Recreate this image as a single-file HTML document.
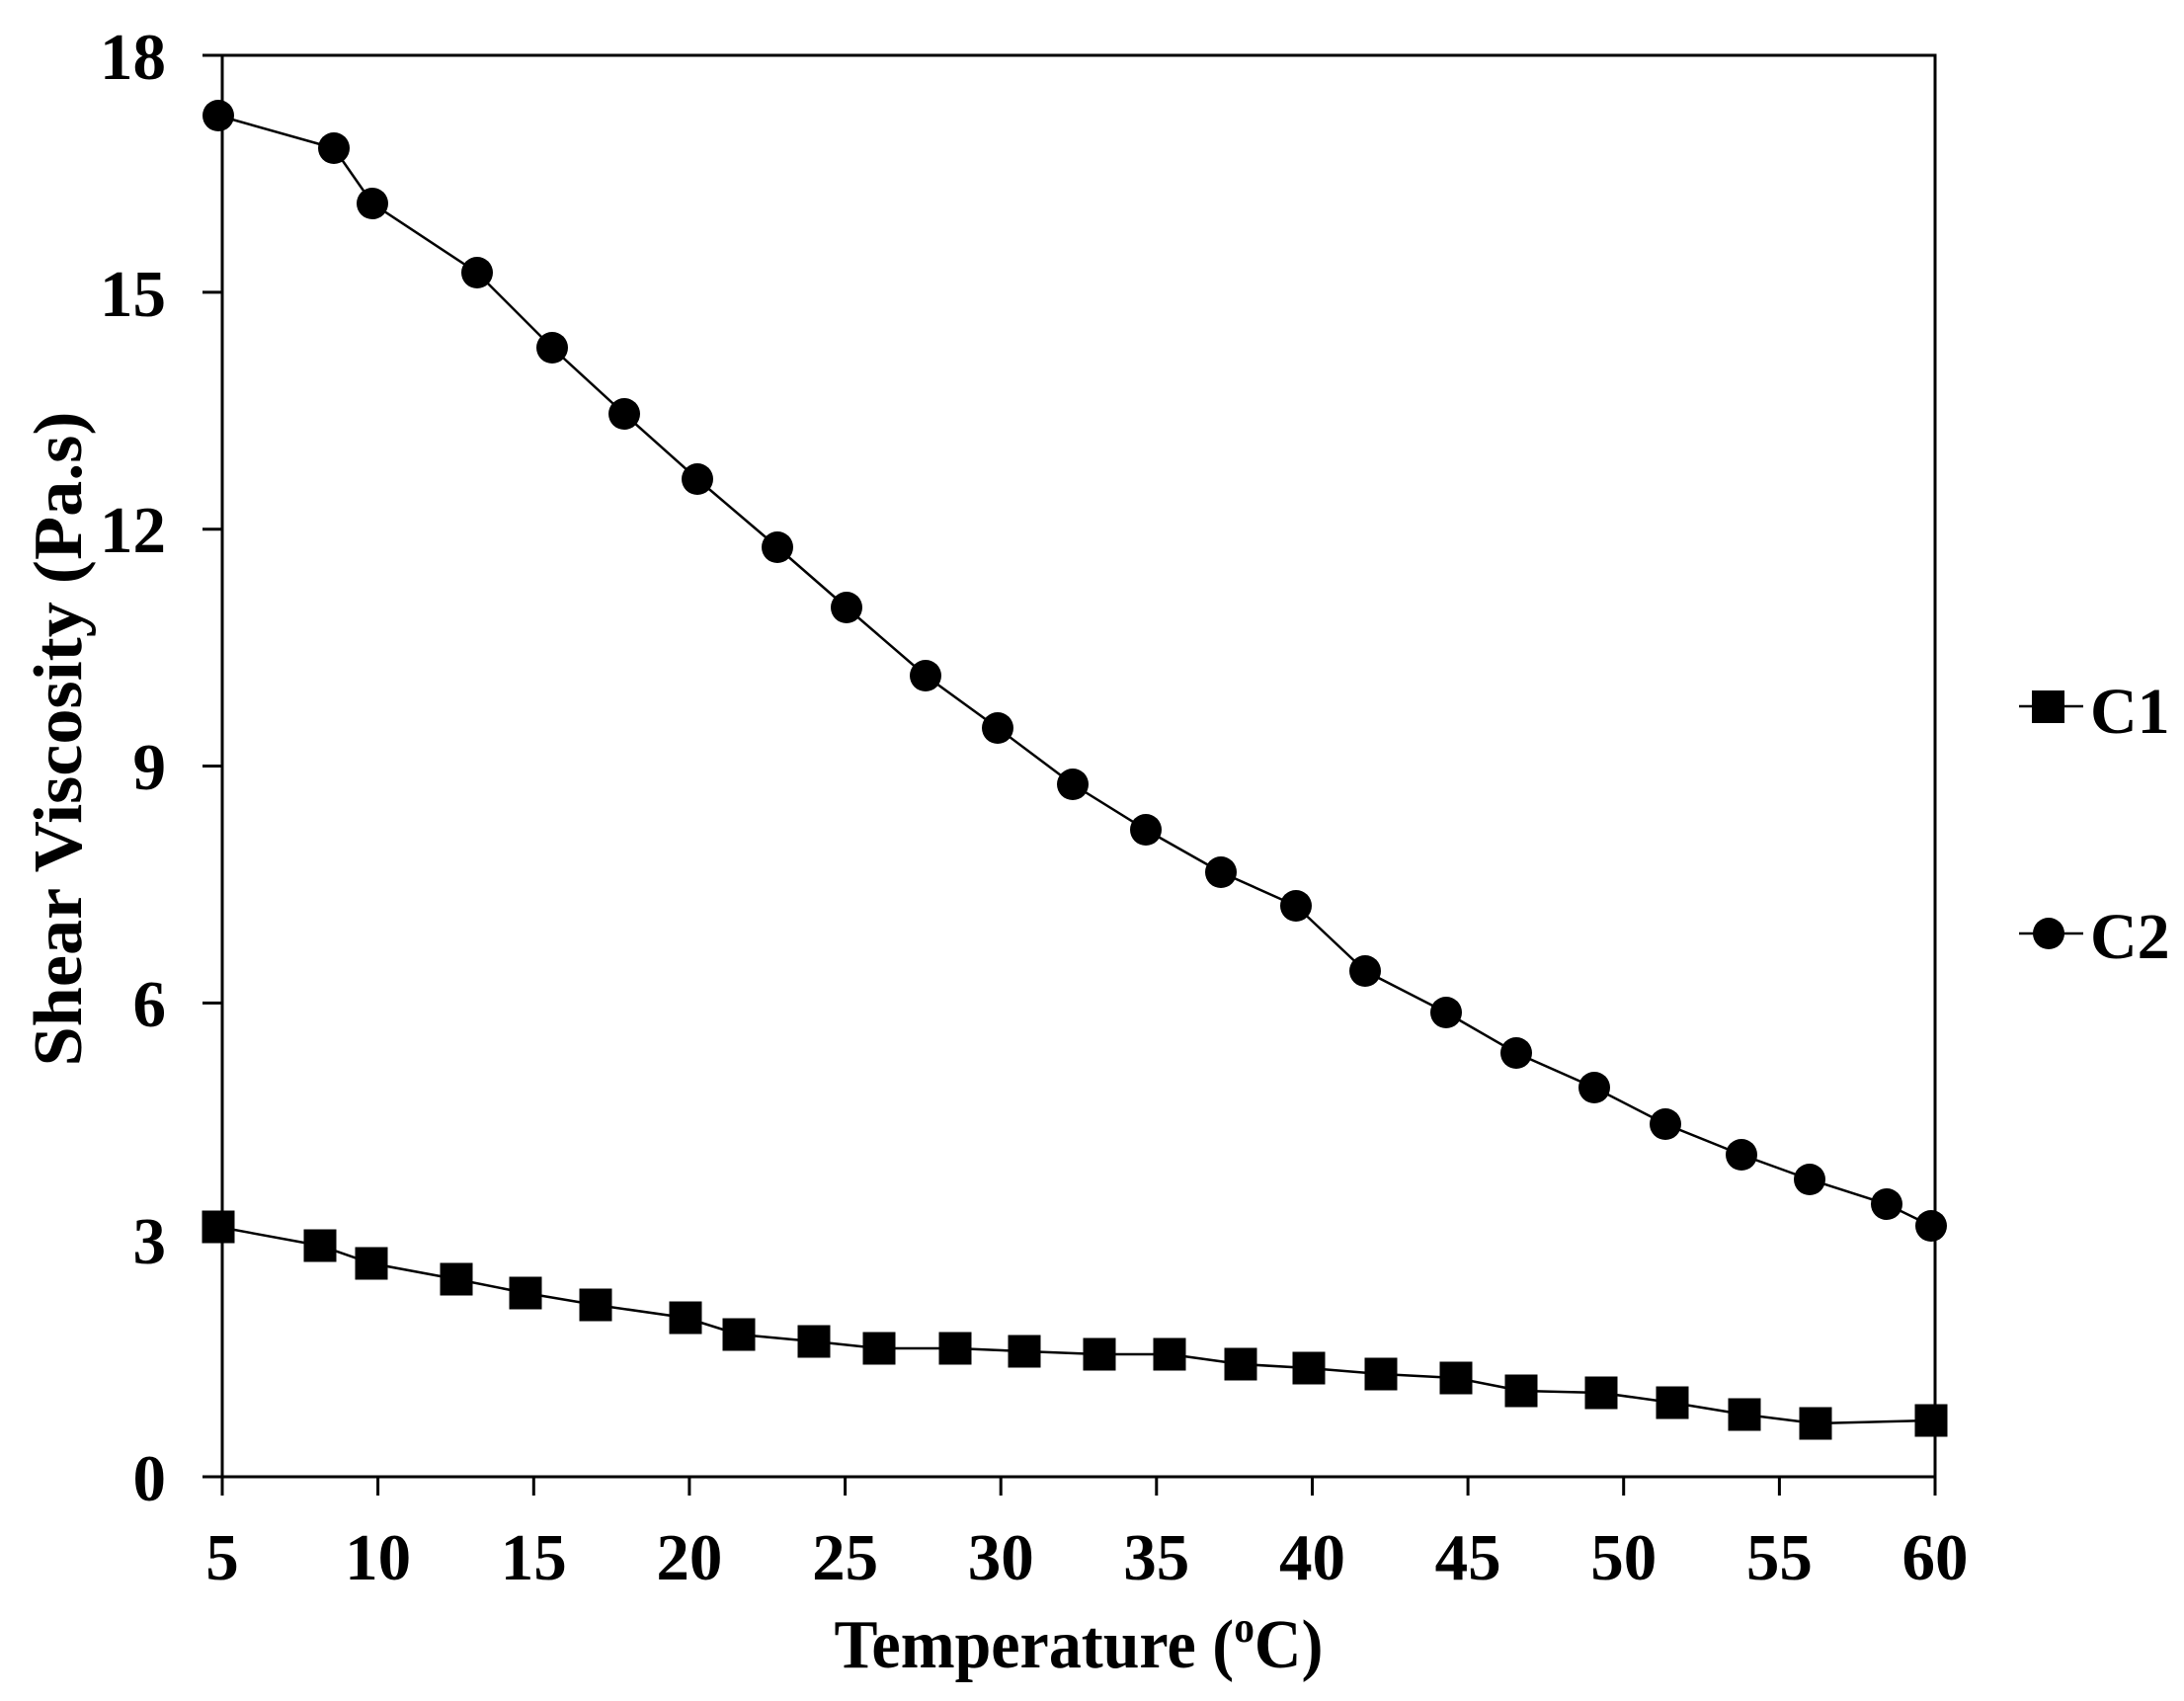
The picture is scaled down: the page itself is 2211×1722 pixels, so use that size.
<!DOCTYPE html>
<html><head><meta charset="utf-8"><style>html,body{margin:0;padding:0;background:#fff}svg{display:block}</style></head>
<body>
<svg width="2211" height="1722" viewBox="0 0 2211 1722" xmlns="http://www.w3.org/2000/svg" font-family="'Liberation Serif', serif" font-weight="bold">
<rect width="2211" height="1722" fill="#fff"/>
<g stroke="#000" stroke-width="3" fill="none">
<rect x="225" y="56" width="1734" height="1439"/>
<path d="M205 1495H225M205 1255.2H225M205 1015.4H225M205 775.5H225M205 535.7H225M205 295.9H225M205 56H225"/>
<path d="M225 1495V1514M382.6 1495V1514M540.3 1495V1514M697.9 1495V1514M855.6 1495V1514M1013.2 1495V1514M1170.8 1495V1514M1328.5 1495V1514M1486.1 1495V1514M1643.7 1495V1514M1801.4 1495V1514M1959 1495V1514"/>
</g>
<g font-size="67" text-anchor="end">
<text x="168" y="1519">0</text>
<text x="168" y="1279">3</text>
<text x="168" y="1039">6</text>
<text x="168" y="799">9</text>
<text x="168" y="559">12</text>
<text x="168" y="320">15</text>
<text x="168" y="80">18</text>
</g>
<g font-size="67" text-anchor="middle">
<text x="225" y="1599">5</text>
<text x="382.6" y="1599">10</text>
<text x="540.3" y="1599">15</text>
<text x="697.9" y="1599">20</text>
<text x="855.6" y="1599">25</text>
<text x="1013.2" y="1599">30</text>
<text x="1170.8" y="1599">35</text>
<text x="1328.5" y="1599">40</text>
<text x="1486.1" y="1599">45</text>
<text x="1643.7" y="1599">50</text>
<text x="1801.4" y="1599">55</text>
<text x="1959" y="1599">60</text>
</g>
<text x="1092" y="1688" font-size="70" text-anchor="middle" textLength="495" lengthAdjust="spacingAndGlyphs">Temperature (<tspan font-size="44" dy="-26">o</tspan><tspan dy="26">C)</tspan></text>
<text transform="translate(82,748) rotate(-90)" font-size="70" text-anchor="middle" textLength="663" lengthAdjust="spacingAndGlyphs">Shear Viscosity (Pa.s)</text>
<polyline fill="none" stroke="#000" stroke-width="2.5" points="221,117 338,150 377,206 483,276 559,352 632,419 706,485 787,554 857,615 937,684 1010,737 1086,794 1160,840 1236,883 1312,917 1382,983 1464,1025 1535,1066 1614,1101 1686,1138 1763,1169 1832,1194 1910,1219 1955,1241"/>
<g fill="#000">
<circle cx="221" cy="117" r="16"/><circle cx="338" cy="150" r="16"/><circle cx="377" cy="206" r="16"/><circle cx="483" cy="276" r="16"/><circle cx="559" cy="352" r="16"/><circle cx="632" cy="419" r="16"/><circle cx="706" cy="485" r="16"/><circle cx="787" cy="554" r="16"/><circle cx="857" cy="615" r="16"/><circle cx="937" cy="684" r="16"/><circle cx="1010" cy="737" r="16"/><circle cx="1086" cy="794" r="16"/><circle cx="1160" cy="840" r="16"/><circle cx="1236" cy="883" r="16"/><circle cx="1312" cy="917" r="16"/><circle cx="1382" cy="983" r="16"/><circle cx="1464" cy="1025" r="16"/><circle cx="1535" cy="1066" r="16"/><circle cx="1614" cy="1101" r="16"/><circle cx="1686" cy="1138" r="16"/><circle cx="1763" cy="1169" r="16"/><circle cx="1832" cy="1194" r="16"/><circle cx="1910" cy="1219" r="16"/><circle cx="1955" cy="1241" r="16"/>
</g>
<polyline fill="none" stroke="#000" stroke-width="2.5" points="221,1242 324,1261 376,1279 462,1295 532,1309 603,1321 694,1334 748,1351 824,1358 890,1365 967,1365 1037,1368 1113,1371 1184,1371 1256,1381 1325,1385 1398,1391 1474,1395 1540,1408 1621,1410 1693,1420 1766,1432 1838,1441 1955,1438"/>
<g fill="#000" transform="translate(-16.5,-16.5)">
<rect x="221" y="1242" width="33" height="33"/><rect x="324" y="1261" width="33" height="33"/><rect x="376" y="1279" width="33" height="33"/><rect x="462" y="1295" width="33" height="33"/><rect x="532" y="1309" width="33" height="33"/><rect x="603" y="1321" width="33" height="33"/><rect x="694" y="1334" width="33" height="33"/><rect x="748" y="1351" width="33" height="33"/><rect x="824" y="1358" width="33" height="33"/><rect x="890" y="1365" width="33" height="33"/><rect x="967" y="1365" width="33" height="33"/><rect x="1037" y="1368" width="33" height="33"/><rect x="1113" y="1371" width="33" height="33"/><rect x="1184" y="1371" width="33" height="33"/><rect x="1256" y="1381" width="33" height="33"/><rect x="1325" y="1385" width="33" height="33"/><rect x="1398" y="1391" width="33" height="33"/><rect x="1474" y="1395" width="33" height="33"/><rect x="1540" y="1408" width="33" height="33"/><rect x="1621" y="1410" width="33" height="33"/><rect x="1693" y="1420" width="33" height="33"/><rect x="1766" y="1432" width="33" height="33"/><rect x="1838" y="1441" width="33" height="33"/><rect x="1955" y="1438" width="33" height="33"/>
</g>
<g stroke="#000" stroke-width="2.5"><path d="M2044 715H2109M2044 945H2109"/></g>
<rect x="2057" y="699" width="33" height="33" fill="#000"/>
<circle cx="2074" cy="945" r="16" fill="#000"/>
<text x="2116" y="742" font-size="66">C1</text>
<text x="2116" y="970" font-size="66">C2</text>
</svg>
</body></html>
